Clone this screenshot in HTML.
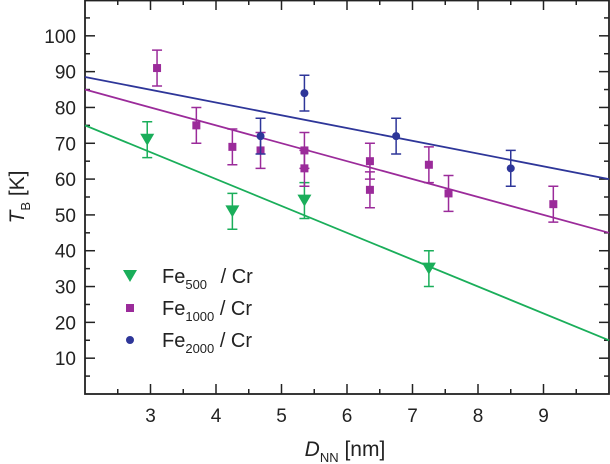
<!DOCTYPE html>
<html><head><meta charset="utf-8"><style>
html,body{margin:0;padding:0;background:#fff;}
svg{display:block;font-family:"Liberation Sans",sans-serif;}
</style></head><body>
<svg id="chart" width="610" height="464"></svg>
<script>
const greenX=[2.95,4.25,5.35,7.25];
const greenY=[71,51,54,35];
const greenErr=[5,5,5,5];
const purpleX=[3.1,3.7,4.25,4.68,5.35,5.35,6.35,6.35,7.25,7.55,9.15];
const purpleY=[91,75,69,68,68,63,65,57,64,56,53];
const purpleErr=[5,5,5,5,5,5,5,5,5,5,5];
const blueX=[4.68,5.35,6.75,8.5];
const blueY=[72,84,72,63];
const blueErr=[5,5,5,5];
const fitGreen=[75,15];
const fitPurple=[85,45];
const fitBlue=[88.5,60];
const xTicks=[3,4,5,6,7,8,9];
const yTicks=[10,20,30,40,50,60,70,80,90,100];

const NS="http://www.w3.org/2000/svg";
const svg=document.getElementById('chart');
const L=85,R=609,T=0,B=394,X0=2,X1=10,Y0=0,Y1=110;
function sx(v){return L+(v-X0)/(X1-X0)*(R-L);}
function sy(v){return B-(v-Y0)/(Y1-Y0)*(B-T);}
function mk(tag,attrs,parent){const e=document.createElementNS(NS,tag);for(const k in attrs)e.setAttribute(k,attrs[k]);(parent||svg).appendChild(e);return e;}

const frame=mk('rect',{x:L,y:T+0.5,width:R-L,height:B-T-0.5,fill:'none',stroke:'#222','stroke-width':1.8});


for(let v=2.5;v<10;v+=0.5){
  const major=Number.isInteger(v);
  const len=major?10:5;
  const x=sx(v);
  const t1=mk('line',{x1:x,y1:B,x2:x,y2:B-len,stroke:'#222','stroke-width':1.5});
  
  
  const t2=mk('line',{x1:x,y1:T,x2:x,y2:T+len,stroke:'#222','stroke-width':1.5});
  
  
}
xTicks.forEach(v=>{
  const t=mk('text',{x:sx(v),y:422,'text-anchor':'middle','font-size':19,fill:'#222'});
  t.textContent=v;
  
  
});
for(let v=5;v<110;v+=5){
  const major=v%10===0;
  const len=major?10:5;
  const y=sy(v);
  const t1=mk('line',{x1:L,y1:y,x2:L+len,y2:y,stroke:'#222','stroke-width':1.5});
  
  
  const t2=mk('line',{x1:R,y1:y,x2:R-len,y2:y,stroke:'#222','stroke-width':1.5});
  
  
}
yTicks.forEach(v=>{
  const t=mk('text',{x:76,y:sy(v)+7,'text-anchor':'end','font-size':19,fill:'#222'});
  t.textContent=v;
  
  
});

function series(xs,ys,es,fit,color,shape,name){
  const g=mk('g',{});
  
  
  const ln=mk('line',{x1:sx(X0),y1:sy(fit[0]),x2:sx(X1),y2:sy(fit[1]),stroke:color,'stroke-width':1.8},g);
  
  
  xs.forEach((xv,i)=>{
    const x=sx(xv),y=sy(ys[i]),yt=sy(ys[i]+es[i]),yb=sy(ys[i]-es[i]);
    const eb=mk('path',{d:`M${x},${yt}V${yb}M${x-5},${yt}H${x+5}M${x-5},${yb}H${x+5}`,stroke:color,'stroke-width':1.5,fill:'none'},g);
    
    
    const m=marker(x,y,color,shape,g);
    
    
  });
}
function marker(x,y,color,shape,g){
  if(shape==='tri')return mk('path',{d:`M${x-7},${y-6}H${x+7}L${x},${y+6}Z`,fill:color},g);
  if(shape==='sq')return mk('rect',{x:x-4,y:y-4,width:8,height:8,fill:color},g);
  return mk('circle',{cx:x,cy:y,r:4,fill:color},g);
}
series(greenX,greenY,greenErr,fitGreen,'#1aae5a','tri','fe500');
series(purpleX,purpleY,purpleErr,fitPurple,'#9b2b9a','sq','fe1000');
series(blueX,blueY,blueErr,fitBlue,'#2e3699','circ','fe2000');

const leg=[['#1aae5a','tri','500',276,'legend-fe500'],['#9b2b9a','sq','1000',308,'legend-fe1000'],['#2e3699','circ','2000',340,'legend-fe2000']];
leg.forEach(l=>{
  const g=mk('g',{});
  
  
  const m=marker(130,l[3],l[0],l[1],g);
  
  
  const t=mk('text',{x:162,y:l[3]+7,'font-size':20,fill:'#222'},g);
  t.innerHTML=`Fe<tspan font-size="13" dy="6">${l[2]}</tspan><tspan dy="-6" dx="${l[2]==='500'?8:0}"> / Cr</tspan>`;
  
  
});

const xt=mk('text',{x:345,y:456,'text-anchor':'middle','font-size':21,fill:'#222'});
xt.innerHTML='<tspan font-style="italic">D</tspan><tspan font-size="13" dy="6">NN</tspan><tspan dy="-6"> [nm]</tspan>';


const yt=mk('text',{x:0,y:0,'text-anchor':'middle','font-size':21,fill:'#222',transform:'translate(24,197) rotate(-90)'});
yt.innerHTML='<tspan font-style="italic">T</tspan><tspan font-size="13" dy="6">B</tspan><tspan dy="-6"> [K]</tspan>';


</script>
</body></html>
